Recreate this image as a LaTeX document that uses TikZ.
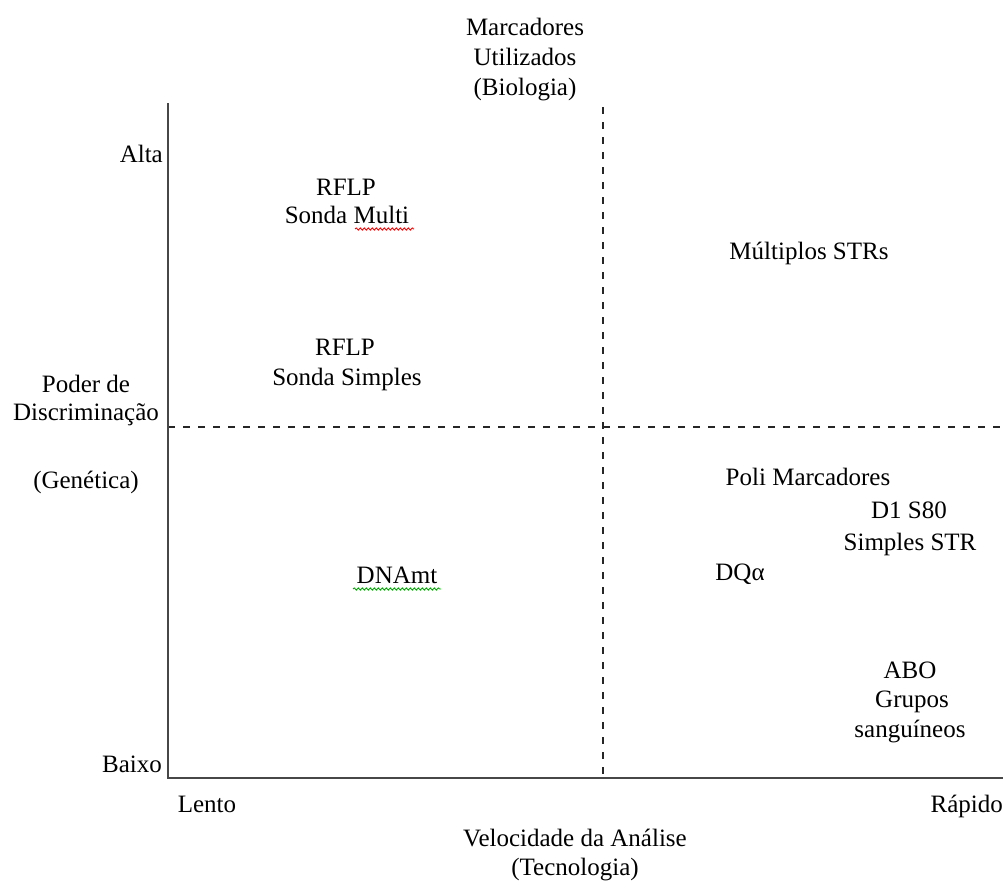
\documentclass[tikz,border=0pt]{standalone}
\usepackage{fontspec}
\setmainfont{Liberation Serif}
\newfontfamily\labelfont{Liberation Serif}
\usetikzlibrary{decorations.pathmorphing}
\begin{document}
\begin{tikzpicture}[x=1pt,y=-1pt,
  lbl/.style={anchor=base,inner sep=0pt,font=\labelfont\fontsize{25}{30}\selectfont},
  rlbl/.style={lbl,anchor=base east},
  axisline/.style={line width=1.6pt,draw=black!72},
  divider/.style={line width=1.3pt,draw=black!85,dash pattern=on 7pt off 8pt},
  wavy/.style={line width=0.9pt,decorate,decoration={snake,amplitude=1.1pt,segment length=4pt}}]
\useasboundingbox (0,0) rectangle (1003,881);

% axes and quadrant dividers
\coordinate (ytop) at (168,103);
\coordinate (orig) at (168,778);
\coordinate (xend) at (1003,778);
\coordinate (vtop) at (603,107);
\coordinate (vbot) at (603,778);
\coordinate (hleft) at (168,427);
\coordinate (hright) at (1003,427);
\draw[divider] (vtop) -- (vbot);
\draw[divider] (hleft) -- (hright);
\draw[axisline] (ytop) -- (orig) -- (xend);

% top title
\node[lbl] (mark1) at (525,35) {Marcadores};
\node[lbl] (mark2) at (525,65) {Utilizados};
\node[lbl] (mark3) at (525,95) {(Biologia)};

% vertical axis labels
\node[rlbl] (alta) at (163,162) {Alta};
\node[lbl] (poder1) at (86,392) {Poder de};
\node[lbl] (poder2) at (86,420) {Discriminação};
\node[lbl] (genet) at (86,488) {(Genética)};
\node[rlbl] (baixo) at (162,772) {Baixo};

% horizontal axis labels
\node[lbl] (lento) at (207,812) {Lento};
\node[rlbl] (rapido) at (1003,812) {Rápido};
\node[lbl] (veloc) at (575,846) {Velocidade da Análise};
\node[lbl] (tecno) at (575,875) {(Tecnologia)};

% upper left quadrant
\node[lbl] (rflpa) at (346,195) {RFLP};
\node[lbl] (multi) at (347,223) {Sonda Multi};
\node[lbl] (rflpb) at (345,355) {RFLP};
\node[lbl] (simples) at (347,385) {Sonda Simples};

% upper right quadrant
\node[lbl] (mstr) at (809,259) {Múltiplos STRs};

% lower left quadrant
\node[lbl] (dnamt) at (397,583) {DNAmt};

% lower right quadrant
\node[lbl] (poli) at (808,485) {Poli Marcadores};
\node[lbl] (d1s80) at (909,518) {D1 S80};
\node[lbl] (sstr) at (910,550) {Simples STR};
\node[lbl] (dqa) at (740,580) {DQα};
\node[lbl] (abo) at (910,678) {ABO};
\node[lbl] (grupos) at (912,707) {Grupos};
\node[lbl] (sang) at (910,737) {sanguíneos};

% proofing underlines
\coordinate (ra) at (355,229);
\coordinate (rb) at (414,229);
\coordinate (ga) at (353,589);
\coordinate (gb) at (441,589);
\draw[wavy,draw=red] (ra) -- (rb);
\draw[wavy,draw=green!65!black] (ga) -- (gb);
\end{tikzpicture}
\end{document}
